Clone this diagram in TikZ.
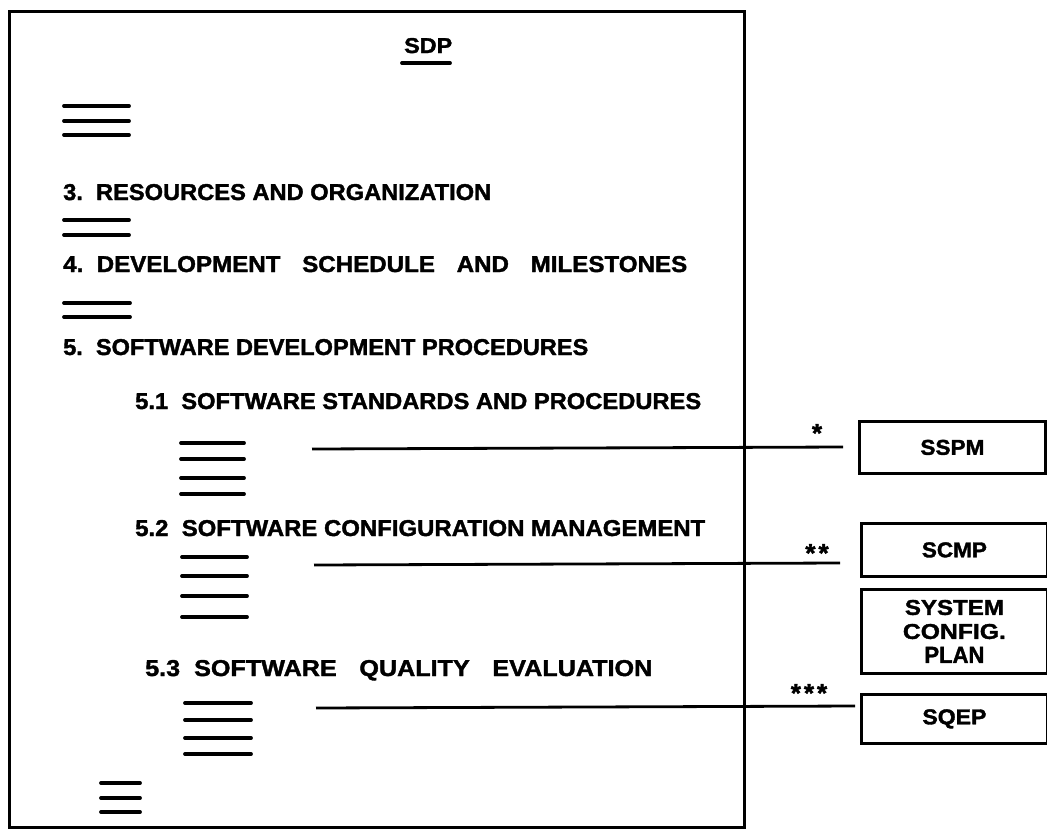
\documentclass[tikz,border=0pt]{standalone}
\usepackage{fontspec}
\setmainfont{Liberation Sans}[BoldFeatures={FakeBold=1.6}]
\usepackage{graphicx}
\newcommand\fitw[3][16]{\resizebox{#2pt}{#1pt}{\bfseries #3}}
\newcommand\wsp{\hspace{0.9em}}
\begin{document}
\begin{tikzpicture}[x=1pt,y=-1pt,
  txt/.style={inner sep=0pt, anchor=base west},
  bar/.style={line width=3.8pt, line cap=round},
  conn/.style={line width=2.8pt},
  frame/.style={draw, line width=3pt, rectangle, inner sep=0pt, anchor=north west},
  docbox/.style={draw, line width=2.8pt, rectangle, inner sep=0pt, anchor=north west, minimum width=186pt},
  lbl/.style={inner sep=0pt, anchor=center, align=center, font=\fontsize{20}{24}\selectfont},
  star/.style={inner sep=0pt, anchor=center, font=\bfseries\fontsize{26}{26}\selectfont}]
\useasboundingbox (0,0) rectangle (1047,839);

% main SDP frame
\node[frame, minimum width=735pt, minimum height=816pt] (sdp) at (8,10) {};

% texts
\node[txt] (title) at (404,53) {\fitw[15]{48}{SDP}};
\draw[bar] (402,63) -- (450,63);

\node[txt] (t3) at (63,200) {\fitw{428}{3.\ \ RESOURCES AND ORGANIZATION}};
\node[txt] (t4) at (63,272) {\fitw{624}{4.\ \ DEVELOPMENT\wsp SCHEDULE\wsp AND\wsp MILESTONES}};
\node[txt] (t5) at (63,355) {\fitw{525}{5.\ \ SOFTWARE DEVELOPMENT PROCEDURES}};
\node[txt] (t51) at (135,409) {\fitw{566}{5.1\ \ SOFTWARE STANDARDS AND PROCEDURES}};
\node[txt] (t52) at (135,536) {\fitw{570}{5.2\ \ SOFTWARE CONFIGURATION MANAGEMENT}};
\node[txt] (t53) at (145,676) {\fitw{507}{5.3\ \ SOFTWARE\wsp QUALITY\wsp EVALUATION}};

% filler bars
\foreach \y in {106,121,135} \draw[bar] (64,\y) -- (129,\y);
\foreach \y in {220,235} \draw[bar] (64,\y) -- (129,\y);
\foreach \y in {303,317} \draw[bar] (64,\y) -- (130,\y);
\foreach \y in {443,459,478,494} \draw[bar] (181,\y) -- (244,\y);
\foreach \y in {557,576,596,617} \draw[bar] (182,\y) -- (247,\y);
\foreach \y in {703,720,738,754} \draw[bar] (185,\y) -- (251,\y);
\foreach \y in {783,798,812} \draw[bar] (101,\y) -- (140,\y);

% referenced documents
\node[docbox, minimum height=52pt] (sspm) at (858,420) {};
\node[lbl] (sspml) at (sspm.center) {\fitw[15]{64}{SSPM}};
\node[docbox, minimum height=53pt] (scmp) at (860,522) {};
\node[lbl] (scmpl) at (scmp.center) {\fitw[15]{65}{SCMP}};
\node[docbox, minimum height=84pt] (scp) at (860,588) {};
\node[lbl] (scpl) at (scp.center) {\fitw[15]{99}{SYSTEM}\\\fitw[15]{103}{CONFIG.}\\\fitw[16]{60}{PLAN}};
\node[docbox, minimum height=49pt] (sqep) at (860,693) {};
\node[lbl] (sqepl) at (sqep.center) {\fitw[15]{64}{SQEP}};

% connectors
\coordinate (c1a) at (312,449);
\coordinate (c1b) at (843,447);
\coordinate (c2a) at (314,565);
\coordinate (c2b) at (840,563);
\coordinate (c3a) at (316,708);
\coordinate (c3b) at (855,706);
\draw[conn] (c1a) -- (c1b);
\draw[conn] (c2a) -- (c2b);
\draw[conn] (c3a) -- (c3b);

\node[star] (s1) at (817,433) {*};
\node[star] (s2) at (817,553) {*\kern3pt*};
\node[star] (s3) at (809,693) {*\kern3pt*\kern3pt*};
\end{tikzpicture}
\end{document}
